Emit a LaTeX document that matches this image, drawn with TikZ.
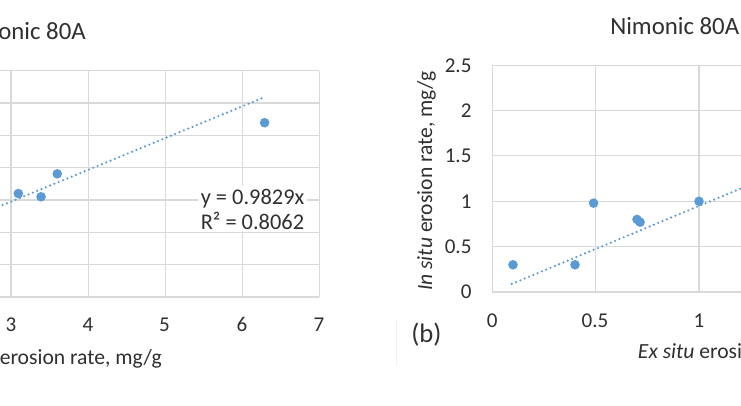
\documentclass[tikz,border=0pt]{standalone}
\usepackage{fontspec}
\setmainfont{Carlito}
\definecolor{ptblue}{HTML}{5B9BD5}
\definecolor{gridc}{HTML}{D9D9D9}
\definecolor{txt}{HTML}{303030}
\begin{document}
\begin{tikzpicture}[x=0.75pt,y=-0.75pt,
  gridline/.style={draw=gridc, line width=0.8pt},
  datapt/.style={circle, fill=ptblue, inner sep=0pt, minimum size=7.2pt},
  trend/.style={draw=ptblue, line width=1.8pt, line cap=round, dash pattern=on 0pt off 3.5pt},
  ticklbl/.style={text=txt, font=\fontsize{15.8}{19}\selectfont, inner sep=0pt},
  axlbl/.style={text=txt, font=\fontsize{16.2}{19}\selectfont, inner sep=0pt},
  ttl/.style={text=txt, font=\fontsize{18.6}{22}\selectfont, inner sep=0pt},
  eqlbl/.style={text=txt, font=\fontsize{16.8}{20}\selectfont, inner sep=0pt},
  panel/.style={text=txt, font=\fontsize{20}{24}\selectfont, inner sep=0pt}]
\useasboundingbox (0,0) rectangle (741,406);
\fill[white] (0,0) rectangle (741,406);
\clip (0,0) rectangle (741,406);

% ---------- left chart ----------
\begin{scope}[shift={(-165.18pt,-222.75pt)}, x=57.81pt, y=24.25pt]
  \foreach \g in {0,...,7} {\draw[gridline] (0,\g) -- (7,\g);}
  \foreach \g in {0,...,7} {\draw[gridline] (\g,0) -- (\g,7);}
  \draw[trend] (2.5,2.457) -- (6.3,6.192);
  \node[datapt] (l1) at (6.29,5.39) {};
  \node[datapt] (l2) at (3.60,3.81) {};
  \node[datapt] (l3) at (3.095,3.20) {};
  \node[datapt] (l4) at (3.39,3.10) {};
\end{scope}
\fill[white] (198,186) rectangle (307,231);
\node[eqlbl, anchor=base west] (eq1) at (200.5,204.3) {y = 0.9829x};
\node[eqlbl, anchor=base west] (eq2) at (200.5,229.3) {R² = 0.8062};
\node[ttl, anchor=base east] (tl) at (86,40) {onic 80A};
\node[ticklbl, anchor=base] (lx3) at (11,331) {3};
\node[ticklbl, anchor=base] (lx4) at (88,331) {4};
\node[ticklbl, anchor=base] (lx5) at (164.5,331) {5};
\node[ticklbl, anchor=base] (lx6) at (242,331) {6};
\node[ticklbl, anchor=base] (lx7) at (319,331) {7};
\node[axlbl, anchor=base east] (lxt) at (162,364) {erosion rate, mg/g};

% ---------- right chart ----------
\begin{scope}[shift={(369.23pt,-219pt)}, x=155.03pt, y=68.03pt]
  \foreach \g in {0,0.5,...,2.5} {\draw[gridline] (0,\g) -- (1.6,\g);}
  \foreach \g in {0,0.5,1,1.5} {\draw[gridline] (\g,0) -- (\g,2.5);}
  \draw[trend] (0.094,0.089) -- (1.45,1.376);
  \node[datapt] (r1) at (0.10,0.30) {};
  \node[datapt] (r2) at (0.40,0.30) {};
  \node[datapt] (r3) at (0.49,0.98) {};
  \node[datapt] (r4) at (0.70,0.80) {};
  \node[datapt] (r5) at (0.715,0.77) {};
  \node[datapt] (r6) at (1.0,1.0) {};
\end{scope}
\node[ttl, anchor=base west] (tr) at (610,34.3) {Nimonic 80A};
\node[ticklbl, anchor=base east] (ry25) at (471.7,72.7) {2.5};
\node[ticklbl, anchor=base east] (ry20) at (471.7,117.6) {2};
\node[ticklbl, anchor=base east] (ry15) at (471.7,162.8) {1.5};
\node[ticklbl, anchor=base east] (ry10) at (471.7,208.0) {1};
\node[ticklbl, anchor=base east] (ry05) at (471.7,253.2) {0.5};
\node[ticklbl, anchor=base east] (ry00) at (471.7,298.5) {0};
\node[ticklbl, anchor=base] (rx0) at (492.3,327) {0};
\node[ticklbl, anchor=base] (rx05) at (595,327) {0.5};
\node[ticklbl, anchor=base] (rx1) at (699,327) {1};
\node[axlbl, anchor=base west] (rxt) at (637.7,358.7) {\textit{Ex situ} erosi};
\node[axlbl, anchor=base, rotate=90] (ryt) at (432,181) {\textit{In situ} erosion rate, mg/g};
\node[panel, anchor=base] (pb) at (426.5,342) {(b)};
\draw[draw=gray!12, line width=0.6pt] (396.7,321) -- (396.7,366);
\end{tikzpicture}
\end{document}
